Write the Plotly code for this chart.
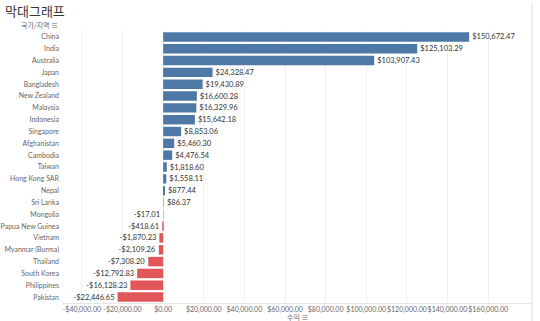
import plotly.graph_objects as go

# Profit by country/region
countries = [
    "China", "India", "Australia", "Japan", "Bangladesh", "New Zealand",
    "Malaysia", "Indonesia", "Singapore", "Afghanistan", "Cambodia", "Taiwan",
    "Hong Kong SAR", "Nepal", "Sri Lanka", "Mongolia", "Papua New Guinea",
    "Vietnam", "Myanmar (Burma)", "Thailand", "South Korea", "Philippines", "Pakistan",
]
profit = [
    150672.47, 125103.29, 103907.43, 24328.47, 19430.89, 16600.28,
    16329.96, 15642.18, 8853.06, 5460.30, 4476.54, 1818.60,
    1558.11, 877.44, 86.37, -17.01, -418.61,
    -1870.23, -2109.26, -7308.20, -12792.83, -16128.23, -22446.65,
]
tick_values = [-40000, -20000, 0, 20000, 40000, 60000, 80000, 100000, 120000, 140000, 160000]


def money(v):
    s = f"${abs(v):,.2f}"
    return "-" + s if v < 0 else s


def mix(c1, c2, t):
    # blend from c1 (pale) to c2 (full) by t in [0, 1]
    return "rgb({},{},{})".format(*[round(a + (b - a) * t) for a, b in zip(c1, c2)])


BLUE = (78, 121, 167)
RED = (225, 87, 89)
PALE_BLUE = (214, 226, 238)
PALE_RED = (248, 214, 214)


def bar_color(v):
    t = min(1.0, 0.25 + abs(v) / 900.0)
    return mix(PALE_BLUE, BLUE, t) if v >= 0 else mix(PALE_RED, RED, t)


LABEL_FONT = "Lato, Noto Sans, sans-serif"
KR_FONT = "Noto Sans CJK KR, sans-serif"

fig = go.Figure(
    go.Bar(
        x=profit,
        y=countries,
        orientation="h",
        marker=dict(color=[bar_color(v) for v in profit], line=dict(width=0)),
        text=[money(v) for v in profit],
        textposition="outside",
        textfont=dict(size=7.5, color="#333333", family=LABEL_FONT),
        cliponaxis=False,
        width=0.8,
        hoverinfo="skip",
    )
)

fig.update_layout(
    width=540,
    height=321,
    margin=dict(l=63, r=8, t=31, b=18),
    paper_bgcolor="white",
    plot_bgcolor="white",
    font=dict(family=LABEL_FONT, size=8, color="#666666"),
    showlegend=False,
    title=dict(
        text="막대그래프",
        x=5 / 540,
        xanchor="left",
        xref="container",
        y=1 - 11 / 321,
        yanchor="middle",
        yref="container",
        font=dict(size=13, color="#333333", family=KR_FONT),
    ),
    xaxis=dict(
        range=[-49300, 181600],
        tickvals=tick_values,
        ticktext=[money(v) for v in tick_values],
        tickfont=dict(size=7, color="#666666", family=LABEL_FONT),
        tickangle=0,
        automargin=False,
        showgrid=True,
        gridcolor="#f0f0f0",
        gridwidth=1,
        zeroline=False,
        showline=True,
        linecolor="#e6e6e6",
        ticks="",
        fixedrange=True,
    ),
    yaxis=dict(
        autorange="reversed",
        automargin=False,
        tickfont=dict(size=7, color="#666666", family=LABEL_FONT),
        showgrid=False,
        zeroline=False,
        showline=False,
        ticks="",
        ticklabelstandoff=3,
        fixedrange=True,
    ),
    annotations=[
        dict(
            text="국가/지역 ≡",
            xref="paper", yref="paper",
            x=-0.006, y=1.022,
            xanchor="right", yanchor="middle",
            showarrow=False,
            font=dict(size=7, color="#666666", family=KR_FONT),
        ),
        dict(
            text="수익 ≡",
            xref="paper", yref="paper",
            x=0.5, y=-0.0533,
            xanchor="center", yanchor="middle",
            showarrow=False,
            font=dict(size=7, color="#666666", family=KR_FONT),
        ),
    ],
    shapes=[
        dict(
            type="line", xref="paper", yref="paper",
            x0=1, x1=1, y0=-0.08, y1=1.1,
            line=dict(color="#dddddd", width=1),
        ),
    ],
)

fig.write_html("out.html")
